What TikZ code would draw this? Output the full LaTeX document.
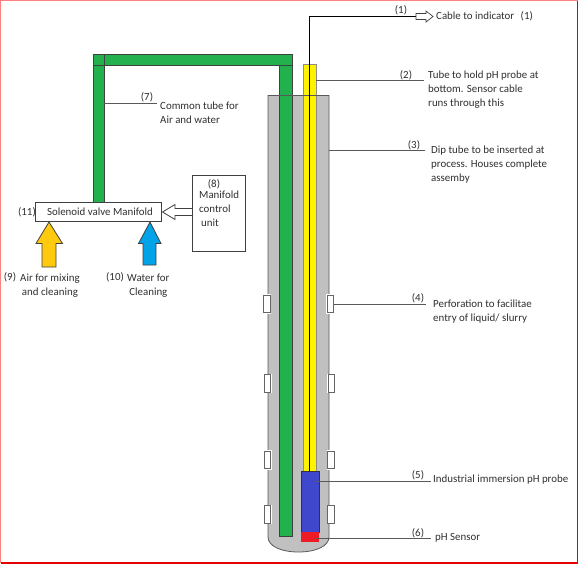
\documentclass[tikz,border=0pt]{standalone}
\usepackage{fontspec}
\setmainfont{Carlito}
\usetikzlibrary{calc}
\definecolor{tubegray}{HTML}{C0C0C0}
\definecolor{tubegreen}{HTML}{22B14C}
\definecolor{tubeyellow}{HTML}{FFF200}
\definecolor{probeblue}{HTML}{3F48CC}
\definecolor{sensorred}{HTML}{ED1C24}
\definecolor{airyellow}{HTML}{FFC90E}
\definecolor{waterblue}{HTML}{00A2E8}
\definecolor{inkdark}{HTML}{303030}
\tikzset{
  part/.style={anchor=north west,inner sep=0pt,outer sep=0pt,draw=black!75,line width=0.8pt},
  perf/.style={part,fill=white,draw=black!60,line width=1pt,minimum width=6.5pt,minimum height=17.5pt},
  leader/.style={draw=black!65,line width=1pt},
  label/.style={font=\fontsize{10.9}{14}\selectfont,text=inkdark,inner sep=0pt,anchor=north west,align=left},
  num/.style={font=\fontsize{10.9}{14}\selectfont,text=inkdark,inner sep=0pt,anchor=center},
  blockarrow/.style={draw=black!75,line width=0.8pt,line join=miter}
}
\begin{document}
\begin{tikzpicture}[x=1pt,y=-1pt]
\useasboundingbox (0,0) rectangle (583,566);
\fill[white] (0,0) rectangle (583,566);
% frame
\draw[red!50,line width=1pt] (0.5,563) -- (0.5,0.5) -- (577.5,0.5);
\draw[red!90!black,line width=1.2pt] (577.5,0.5) -- (577.5,563) -- (0.5,563);
% dip tube
\draw[fill=tubegray,draw=black!65,line width=0.8pt] (268,95.5) -- (329,95.5) -- (329,537) .. controls (329,546) and (316,552) .. (298.5,552) .. controls (281,552) and (268,546) .. (268,537) -- cycle;
\coordinate (diptube) at (329,150);
% green tube
\node[part,fill=tubegreen,minimum width=12.5pt,minimum height=481.5pt] (greenright) at (279.5,54.5) {};
\node[part,fill=tubegreen,minimum width=198.5pt,minimum height=11pt] (greentop) at (93.5,54.5) {};
\node[part,fill=tubegreen,minimum width=10.5pt,minimum height=148pt] (greenleft) at (93.5,54.5) {};
\draw[black!75,line width=0.6pt] (93.5,65.5) -- (104,65.5) (279.5,65.5) -- (292,65.5);
\fill[tubegreen] (105,55) rectangle (291.5,65);
\fill[tubegreen] (280,66) rectangle (291.5,95);
% yellow tube
\node[part,fill=tubeyellow,draw=black!45,minimum width=13pt,minimum height=407pt] (yellowtube) at (303,64) {};
\draw[black!65,line width=0.8pt] (268,95.5) -- (329,95.5);
% cable
\coordinate (cablestart) at (309.5,471);
\coordinate (cablecorner) at (309.5,16);
\coordinate (cableend) at (416,16);
\draw[black,line width=0.8pt] (cablestart) -- (cablecorner) -- (cableend);
\draw[blockarrow,fill=white,line width=0.7pt] (416,13.5) -- (426,13.5) -- (426,11) -- (433,16.5) -- (426,22) -- (426,19.5) -- (416,19.5) -- cycle;
% probe and sensor
\node[part,fill=probeblue,draw=black!80,minimum width=18pt,minimum height=61pt] (probe) at (301,471) {};
\node[part,fill=sensorred,draw=none,minimum width=18pt,minimum height=10pt] (sensor) at (301,532) {};
% perforations
\foreach \n/\xa/\xb/\yy in {a/263.5/327/295,b/264/328/374.5,c/264/327.5/451,d/264/327.5/505.5}{
  \fill[white] (\xa-1,\yy-1) rectangle (\xa+7.5,\yy+18.5);
  \fill[white] (\xb-1,\yy-1) rectangle (\xb+7.5,\yy+18.5);
  \node[perf] (perfL\n) at (\xa,\yy) {};
  \node[perf] (perfR\n) at (\xb,\yy) {};
}
% manifold
\node[part,fill=white,minimum width=126pt,minimum height=19pt] (manifold) at (35.5,202.5) {};
\node[font=\fontsize{10.9}{14}\selectfont,text=inkdark,inner sep=0pt] (manifoldtext) at (100,212) {Solenoid valve Manifold};
\node[part,fill=white,minimum width=53pt,minimum height=75.5pt] (control) at (192.5,175.5) {};
% arrows
\draw[blockarrow,fill=white] (192.5,208.5) -- (175,208.5) -- (175,204.5) -- (162.5,212) -- (175,219.5) -- (175,215.5) -- (192.5,215.5) -- cycle;
\draw[blockarrow,fill=airyellow] (49,222) -- (62.5,243.5) -- (56,243.5) -- (56,267) -- (42,267) -- (42,243.5) -- (36,243.5) -- cycle;
\draw[blockarrow,fill=waterblue] (150,222) -- (161,243.5) -- (156,243.5) -- (156,265) -- (143,265) -- (143,243.5) -- (138.5,243.5) -- cycle;
% leaders
\coordinate (l2) at (424,80);
\coordinate (l3) at (425,150);
\coordinate (l4) at (426,304);
\coordinate (l5) at (431,481);
\coordinate (l6) at (431,538);
\coordinate (l7) at (157,103);
\draw[leader] (yellowtube.east |- l2) -- (l2);
\draw[leader] (diptube) -- (l3);
\draw[leader] (perfRa.east |- l4) -- (l4);
\draw[leader] (316,481) -- (l5);
\draw[leader] (316,538) -- (l6);
\draw[leader] (greenleft.east |- l7) -- (l7);
% numbers
\node[num] (n1) at (401,10) {(1)};
\node[num] (n2) at (406,75) {(2)};
\node[num] (n3) at (414,145) {(3)};
\node[num] (n4) at (418,298) {(4)};
\node[num] (n5) at (418,475) {(5)};
\node[num] (n6) at (418,533) {(6)};
\node[num] (n7) at (147,97) {(7)};
\node[num] (n8) at (214,184.5) {(8)};
\node[num] (n9) at (10,277) {(9)};
\node[num] (n10) at (115,277) {(10)};
\node[num] (n11) at (27,212) {(11)};
% labels
\node[label] (t1) at (436,11.5) {Cable to indicator\hspace{4pt} (1)};
\node[label] (t2) at (428,70.5) {Tube to hold pH probe at\\bottom. Sensor cable\\runs through this};
\node[label] (t3) at (431,145.5) {Dip tube to be inserted at\\process. Houses complete\\assemby};
\node[label] (t4) at (433,299.5) {Perforation to facilitae\\entry of liquid/ slurry};
\node[label] (t5) at (433,474.5) {Industrial immersion pH probe};
\node[label] (t6) at (435,533.5) {pH Sensor};
\node[label] (t7) at (160,102) {Common tube for\\Air and water};
\node[label] (t8) at (199,190.5) {Manifold\\control\\\hspace{2pt}unit};
\node[label,align=center] (t9) at (20,273.5) {Air for mixing\\and cleaning};
\node[label,align=center] (t10) at (127,273.5) {Water for\\Cleaning};
\end{tikzpicture}
\end{document}
